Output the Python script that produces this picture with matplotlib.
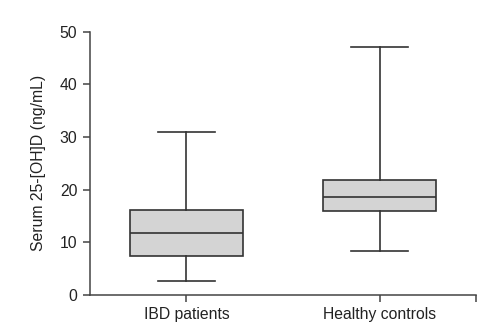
import matplotlib.pyplot as plt

plt.rcParams['font.family'] = ['Liberation Sans', 'DejaVu Sans']

# data
groups = ['IBD patients', 'Healthy controls']
whisker_low = [2.6, 8.4]
q1 = [7.3, 15.9]
median = [11.7, 18.6]
q3 = [16.2, 21.8]
whisker_high = [30.9, 47.1]

stats = []
for i, g in enumerate(groups):
    stats.append({'label': g, 'whislo': whisker_low[i], 'q1': q1[i], 'med': median[i],
                  'q3': q3[i], 'whishi': whisker_high[i], 'fliers': []})

fig = plt.figure(figsize=(4.94, 3.32), dpi=100)
ax = fig.add_axes([0.182, 0.1123, 0.782, 0.7922])

line_col = '#333333'
lw = 1.2
ax.bxp(stats, positions=[1, 2], widths=0.585, patch_artist=True, showfliers=False,
       boxprops=dict(facecolor='#d4d4d4', edgecolor=line_col, linewidth=lw),
       medianprops=dict(color=line_col, linewidth=lw),
       whiskerprops=dict(color=line_col, linewidth=lw),
       capprops=dict(color=line_col, linewidth=lw))

ax.set_xlim(0.5, 2.5)
ax.set_ylim(0, 50)
ax.set_yticks([0, 10, 20, 30, 40, 50])
ax.set_xticks([1, 2, 2.5])
ax.set_xticklabels(groups + [''])
ax.set_ylabel('Serum 25-[OH]D (ng/mL)', fontsize=11.3, color='#222222', labelpad=10)

for s in ['top', 'right']:
    ax.spines[s].set_visible(False)
for s in ['left', 'bottom']:
    ax.spines[s].set_color('#444444')
    ax.spines[s].set_linewidth(1.1)
ax.tick_params(axis='both', length=5, width=1.1, color='#444444', labelsize=11.3,
               labelcolor='#222222', pad=4)

fig.savefig('out.png', dpi=100)
